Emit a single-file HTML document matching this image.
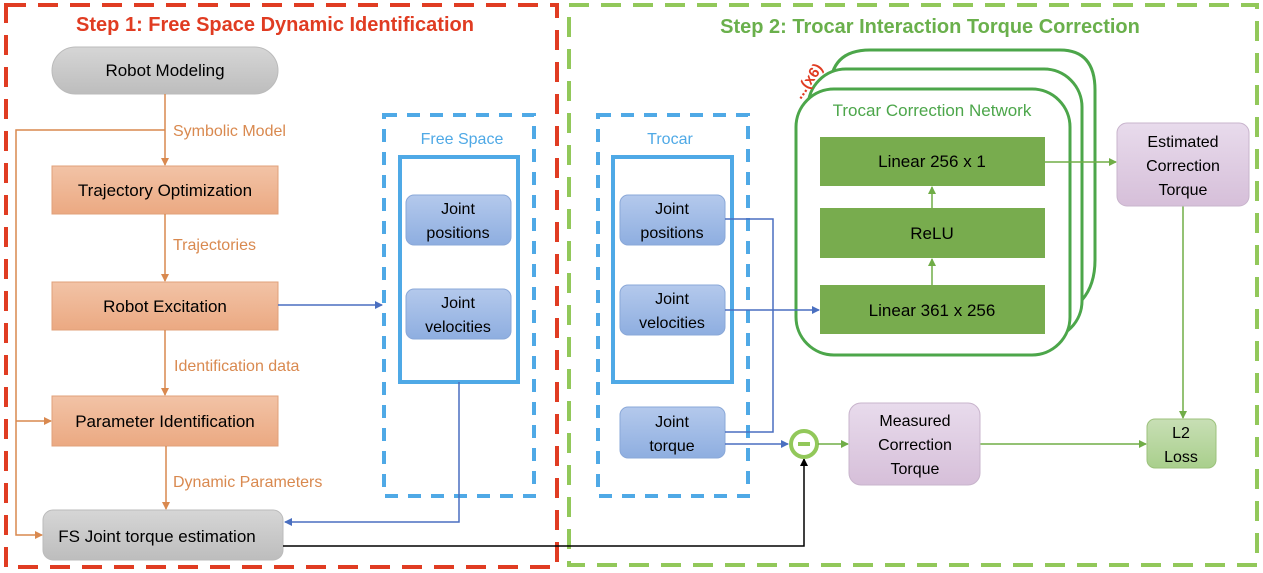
<!DOCTYPE html>
<html><head><meta charset="utf-8"><style>
html,body{margin:0;padding:0;background:#fff;}
svg{display:block;font-family:"Liberation Sans",sans-serif;}
</style></head><body>
<svg width="1263" height="573" viewBox="0 0 1263 573" xmlns="http://www.w3.org/2000/svg">
<defs>
<marker id="ao" markerWidth="8" markerHeight="8" refX="7" refY="4" orient="auto" markerUnits="userSpaceOnUse"><path d="M0,0 L8,4 L0,8z" fill="#d9894f"/></marker>
<marker id="ab" markerWidth="8" markerHeight="8" refX="7" refY="4" orient="auto" markerUnits="userSpaceOnUse"><path d="M0,0 L8,4 L0,8z" fill="#4a6fc0"/></marker>
<marker id="ag" markerWidth="8" markerHeight="8" refX="7" refY="4" orient="auto" markerUnits="userSpaceOnUse"><path d="M0,0 L8,4 L0,8z" fill="#70ad47"/></marker>
<marker id="ak" markerWidth="8" markerHeight="8" refX="7" refY="4" orient="auto" markerUnits="userSpaceOnUse"><path d="M0,0 L8,4 L0,8z" fill="#000"/></marker>
<linearGradient id="go" x1="0" y1="0" x2="0" y2="1"><stop offset="0" stop-color="#f2c3a6"/><stop offset="1" stop-color="#eba982"/></linearGradient>
<linearGradient id="gg" x1="0" y1="0" x2="0" y2="1"><stop offset="0" stop-color="#d6d6d6"/><stop offset="1" stop-color="#bdbdbd"/></linearGradient>
<linearGradient id="gb" x1="0" y1="0" x2="0" y2="1"><stop offset="0" stop-color="#b4c9ec"/><stop offset="1" stop-color="#8eaee0"/></linearGradient>
<linearGradient id="gp" x1="0" y1="0" x2="0" y2="1"><stop offset="0" stop-color="#e8dbec"/><stop offset="1" stop-color="#d6bfd9"/></linearGradient>
<linearGradient id="gl" x1="0" y1="0" x2="0" y2="1"><stop offset="0" stop-color="#c8dfb5"/><stop offset="1" stop-color="#a9cf8c"/></linearGradient>
</defs>
<rect x="6" y="5" width="551" height="562" fill="none" stroke="#e03c22" stroke-width="4" stroke-dasharray="20,12"/>
<rect x="569" y="5" width="688" height="560" fill="none" stroke="#92c85a" stroke-width="4" stroke-dasharray="20,12"/>
<text x="275" y="31" font-size="20" font-weight="bold" fill="#e03c22" text-anchor="middle">Step 1: Free Space Dynamic Identification</text>
<text x="930" y="33" font-size="20" font-weight="bold" fill="#6ab04c" text-anchor="middle">Step 2: Trocar Interaction Torque Correction</text>

<rect x="52" y="47" width="226" height="47" rx="23.5" fill="url(#gg)" stroke="#bbb"/>
<text x="165" y="76" font-size="17" text-anchor="middle">Robot Modeling</text>
<g fill="url(#go)" stroke="#e0a07a">
<rect x="52" y="166" width="226" height="48"/>
<rect x="52" y="282" width="226" height="48"/>
<rect x="52" y="396" width="226" height="50"/>
</g>
<g font-size="17" text-anchor="middle">
<text x="165" y="196">Trajectory Optimization</text>
<text x="165" y="312">Robot Excitation</text>
<text x="165" y="427">Parameter Identification</text>
</g>
<rect x="43" y="510" width="240" height="50" rx="10" fill="url(#gg)" stroke="#bbb"/>
<text x="157" y="542" font-size="17" text-anchor="middle">FS Joint torque estimation</text>
<g stroke="#d9894f" stroke-width="1.5" fill="none">
<line x1="165" y1="94" x2="165" y2="165" marker-end="url(#ao)"/>
<line x1="165" y1="214" x2="165" y2="281" marker-end="url(#ao)"/>
<line x1="165" y1="330" x2="165" y2="395" marker-end="url(#ao)"/>
<line x1="166" y1="446" x2="166" y2="509" marker-end="url(#ao)"/>
<polyline points="165,130 16,130 16,535 42,535" marker-end="url(#ao)"/>
<line x1="16" y1="421" x2="51" y2="421" marker-end="url(#ao)"/>
</g>
<g fill="#d9894f" font-size="16">
<text x="173" y="136">Symbolic Model</text>
<text x="173" y="250">Trajectories</text>
<text x="174" y="371">Identification data</text>
<text x="173" y="487">Dynamic Parameters</text>
</g>

<rect x="384" y="115" width="150" height="381" fill="none" stroke="#4fa9e6" stroke-width="4" stroke-dasharray="13,10"/>
<text x="462" y="144" font-size="16" fill="#4fa9e6" text-anchor="middle">Free Space</text>
<rect x="400" y="157" width="118" height="225" fill="none" stroke="#4fa9e6" stroke-width="4"/>
<rect x="406" y="195" width="105" height="50" rx="8" fill="url(#gb)" stroke="#8aa8d8"/>
<rect x="406" y="289" width="105" height="50" rx="8" fill="url(#gb)" stroke="#8aa8d8"/>
<g font-size="16" text-anchor="middle"><text x="458" y="214">Joint</text><text x="458" y="238">positions</text><text x="458" y="308">Joint</text><text x="458" y="332">velocities</text></g>
<g stroke="#4a6fc0" stroke-width="1.5" fill="none">
<line x1="278" y1="305" x2="382" y2="305" marker-end="url(#ab)"/>
<polyline points="459,382 459,522 285,522" marker-end="url(#ab)"/>
</g>

<rect x="598" y="115" width="150" height="381" fill="none" stroke="#4fa9e6" stroke-width="4" stroke-dasharray="13,10"/>
<text x="670" y="144" font-size="16" fill="#4fa9e6" text-anchor="middle">Trocar</text>
<rect x="613" y="157" width="119" height="225" fill="none" stroke="#4fa9e6" stroke-width="4"/>
<rect x="620" y="195" width="105" height="50" rx="8" fill="url(#gb)" stroke="#8aa8d8"/>
<rect x="620" y="285" width="105" height="50" rx="8" fill="url(#gb)" stroke="#8aa8d8"/>
<rect x="620" y="407" width="105" height="51" rx="8" fill="url(#gb)" stroke="#8aa8d8"/>
<g font-size="16" text-anchor="middle"><text x="672" y="214">Joint</text><text x="672" y="238">positions</text><text x="672" y="304">Joint</text><text x="672" y="328">velocities</text><text x="672" y="427">Joint</text><text x="672" y="451">torque</text></g>
<polyline points="283,546 804,546 804,459" fill="none" stroke="#000" stroke-width="1.5" marker-end="url(#ak)"/>
<circle cx="804" cy="444" r="13" fill="#fff" stroke="#92c85a" stroke-width="4"/>
<rect x="798" y="442" width="12" height="4" fill="#92c85a"/>

<g fill="#fff" stroke="#4ca64a" stroke-width="3">
<path d="M830,90 Q830,50 870,50 L1060,50 Q1095,50 1095,90 L1095,260 Q1095,285 1082,300"/>
<rect x="808" y="69" width="274" height="270" rx="38"/>
<rect x="796" y="89" width="274" height="266" rx="38"/>
</g>
<text x="812" y="84" font-size="15" font-weight="bold" fill="#e03c22" transform="rotate(-55 812 84)" text-anchor="middle">...(x6)</text>
<text x="932" y="116" font-size="17" fill="#4ca64a" text-anchor="middle">Trocar Correction Network</text>
<g fill="#78ac4e">
<rect x="820" y="137" width="225" height="49"/>
<rect x="820" y="208" width="225" height="50"/>
<rect x="820" y="285" width="225" height="49"/>
</g>
<g font-size="17" text-anchor="middle">
<text x="932" y="167">Linear 256 x 1</text>
<text x="932" y="239">ReLU</text>
<text x="932" y="316">Linear 361 x 256</text>
</g>
<g stroke="#4a6fc0" stroke-width="1.5" fill="none">
<polyline points="725,219 773,219 773,432 725,432"/>
<line x1="725" y1="310" x2="819" y2="310" marker-end="url(#ab)"/>
<line x1="725" y1="444" x2="788" y2="444" marker-end="url(#ab)"/>
</g>
<g stroke="#70ad47" stroke-width="1.5" fill="none">
<line x1="932" y1="285" x2="932" y2="259" marker-end="url(#ag)"/>
<line x1="932" y1="208" x2="932" y2="187" marker-end="url(#ag)"/>
<line x1="1045" y1="162" x2="1116" y2="162" marker-end="url(#ag)"/>
<line x1="1183" y1="206" x2="1183" y2="418" marker-end="url(#ag)"/>
<line x1="818" y1="444" x2="848" y2="444" marker-end="url(#ag)"/>
<line x1="980" y1="444" x2="1146" y2="444" marker-end="url(#ag)"/>
</g>
<rect x="1117" y="123" width="132" height="83" rx="10" fill="url(#gp)" stroke="#c8b4cc"/>
<g font-size="16" text-anchor="middle"><text x="1183" y="147">Estimated</text><text x="1183" y="171">Correction</text><text x="1183" y="195">Torque</text></g>
<rect x="849" y="403" width="131" height="82" rx="12" fill="url(#gp)" stroke="#c8b4cc"/>
<g font-size="16" text-anchor="middle"><text x="915" y="426">Measured</text><text x="915" y="450">Correction</text><text x="915" y="474">Torque</text></g>
<rect x="1147" y="419" width="69" height="49" rx="8" fill="url(#gl)" stroke="#9cc27c"/>
<g font-size="16" text-anchor="middle"><text x="1181" y="438">L2</text><text x="1181" y="462">Loss</text></g>
</svg>
</body></html>
